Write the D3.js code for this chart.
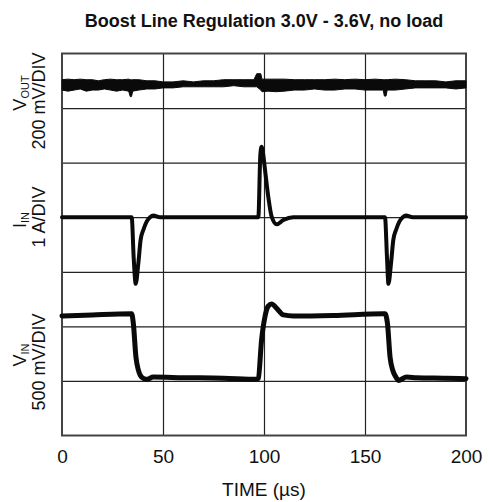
<!DOCTYPE html>
<html>
<head>
<meta charset="utf-8">
<script src="https://cdn.jsdelivr.net/npm/d3@7"></script>
<style>
  html, body { margin: 0; padding: 0; background: #fff; }
  text { font-family: "Liberation Sans", Arial, sans-serif; fill: #111; }
</style>
</head>
<body>
<svg id="chart" width="489" height="502"></svg>
<script>
// ---- data (time in µs, amplitude in scope divisions from the bottom) ----
const title = "Boost Line Regulation 3.0V - 3.6V, no load";
const xTicks = [0, 50, 100, 150, 200];
const yDivisions = [0, 1, 2, 3, 4, 5, 6, 7];
const xLabel = "TIME (µs)";

// V_OUT trace (noisy band: upper / lower envelope)
const voutTime = [0, 3, 6, 9, 12, 15, 18, 21, 24, 27, 30, 33, 33.8, 34.4, 35, 38, 42, 46, 50, 55, 60, 65, 70, 75, 80, 85, 90, 95, 96.4, 98.4, 99, 102, 106, 110, 115, 120, 125, 130, 135, 140, 145, 150, 155, 159, 159.6, 160.4, 161, 165, 170, 175, 180, 185, 190, 195, 200];
const voutHigh = [6.52, 6.53, 6.52, 6.53, 6.52, 6.52, 6.50, 6.52, 6.53, 6.52, 6.52, 6.53, 6.52, 6.52, 6.52, 6.52, 6.50, 6.50, 6.48, 6.48, 6.50, 6.48, 6.50, 6.50, 6.52, 6.52, 6.52, 6.52, 6.63, 6.63, 6.53, 6.53, 6.53, 6.53, 6.52, 6.52, 6.52, 6.52, 6.53, 6.52, 6.53, 6.52, 6.53, 6.52, 6.52, 6.52, 6.52, 6.53, 6.52, 6.50, 6.50, 6.50, 6.48, 6.50, 6.50];
const voutLow  = [6.33, 6.31, 6.33, 6.35, 6.31, 6.33, 6.33, 6.35, 6.33, 6.31, 6.33, 6.31, 6.21, 6.21, 6.31, 6.33, 6.35, 6.35, 6.37, 6.37, 6.39, 6.39, 6.39, 6.39, 6.39, 6.41, 6.39, 6.39, 6.39, 6.33, 6.30, 6.31, 6.30, 6.31, 6.33, 6.33, 6.35, 6.33, 6.33, 6.35, 6.35, 6.33, 6.33, 6.33, 6.22, 6.22, 6.33, 6.33, 6.35, 6.37, 6.37, 6.37, 6.37, 6.35, 6.37];

// I_IN trace
const iinTime = [0, 34.5, 35.5, 36.5, 37.8, 38.9, 40.3, 41.9, 43.6, 45.2, 48.5, 97.2, 98.2, 98.8, 99.6, 100.5, 102.1, 103.8, 106.3, 109.6, 114.5, 159.9, 160.9, 161.6, 162.9, 164.0, 165.4, 167.0, 168.7, 170.3, 173.6, 200];
const iinValue = [4.0, 4.0, 3.25, 2.78, 3.16, 3.58, 3.77, 3.92, 4.0, 4.03, 4.0, 4.0, 5.15, 5.29, 5.15, 4.87, 4.38, 4.01, 3.87, 3.95, 4.0, 4.0, 3.25, 2.78, 3.16, 3.58, 3.77, 3.92, 4.0, 4.03, 4.0, 4.0];

// V_IN trace
const vinTime = [0, 15, 34.5, 35.3, 36.6, 37.8, 39.4, 41.9, 45.2, 60, 80, 96.4, 97.2, 98.8, 100.5, 102.1, 103.8, 106.3, 109.6, 114.5, 134.3, 159.1, 159.9, 161.1, 162.4, 163.7, 165.3, 166.5, 170.6, 175.5, 190, 200];
const vinValue = [2.19, 2.21, 2.23, 2.06, 1.44, 1.20, 1.07, 1.03, 1.07, 1.06, 1.05, 1.03, 1.05, 1.75, 2.18, 2.37, 2.41, 2.33, 2.21, 2.19, 2.20, 2.23, 2.23, 2.06, 1.44, 1.20, 1.07, 1.01, 1.07, 1.06, 1.05, 1.04];

// channel labels
const channelNames = [
  { main: "V", sub: "OUT", scale: "200 mV/DIV", c1: 93, c2: 101 },
  { main: "I", sub: "IN",  scale: "1 A/DIV",    c1: 220, c2: 217 },
  { main: "V", sub: "IN",  scale: "500 mV/DIV", c1: 355, c2: 362 }
];

// ---- layout ----
const svg = d3.select("#chart");
const pLeft = 62, pRight = 466, pTop = 53.5, pBottom = 435.5;
const x = d3.scaleLinear().domain([0, 200]).range([pLeft, pRight]);
const y = d3.scaleLinear().domain([0, 7]).range([pBottom, pTop]);

// title
svg.append("text")
  .attr("x", (pLeft + pRight) / 2).attr("y", 27)
  .attr("text-anchor", "middle")
  .style("font-size", "18px").style("font-weight", "bold")
  .text(title);

// grid (vertical)
svg.append("g")
  .attr("transform", `translate(0,${pBottom})`)
  .call(d3.axisBottom(x).tickValues(xTicks.slice(1, -1)).tickSize(-(pBottom - pTop)).tickFormat(""))
  .call(g => g.select(".domain").remove())
  .call(g => g.selectAll("line").attr("stroke", "#222").attr("stroke-width", 1.2));

// grid (horizontal)
svg.append("g")
  .attr("transform", `translate(${pLeft},0)`)
  .call(d3.axisLeft(y).tickValues(yDivisions.slice(1, -1)).tickSize(-(pRight - pLeft)).tickFormat(""))
  .call(g => g.select(".domain").remove())
  .call(g => g.selectAll("line").attr("stroke", "#222").attr("stroke-width", 1.2));

// frame
svg.append("rect")
  .attr("x", pLeft).attr("y", pTop)
  .attr("width", pRight - pLeft).attr("height", pBottom - pTop)
  .attr("fill", "none").attr("stroke", "#444").attr("stroke-width", 2);

// x tick labels
svg.append("g")
  .attr("transform", `translate(0,${pBottom})`)
  .call(d3.axisBottom(x).tickValues(xTicks).tickSize(0).tickPadding(14))
  .call(g => g.select(".domain").remove())
  .call(g => g.selectAll("text")
      .style("font-size", "19px")
      .style("font-family", '"Liberation Sans", Arial, sans-serif')
      .attr("fill", "#111"));

// x label
svg.append("text")
  .attr("x", (pLeft + pRight) / 2).attr("y", 496)
  .attr("text-anchor", "middle")
  .style("font-size", "19px")
  .text(xLabel);

// V_OUT band
const voutData = voutTime.map((t, i) => ({ t, hi: voutHigh[i], lo: voutLow[i] }));
svg.append("path")
  .datum(voutData)
  .attr("d", d3.area().x(d => x(d.t)).y0(d => y(d.lo)).y1(d => y(d.hi)))
  .attr("fill", "#0a0a0a").attr("stroke", "#0a0a0a").attr("stroke-width", 1);

// I_IN trace
const iinData = iinTime.map((t, i) => ({ t, v: iinValue[i] }));
svg.append("path")
  .datum(iinData)
  .attr("d", d3.line().x(d => x(d.t)).y(d => y(d.v)).curve(d3.curveMonotoneX))
  .attr("fill", "none").attr("stroke", "#0a0a0a").attr("stroke-width", 4)
  .attr("stroke-linejoin", "round").attr("stroke-linecap", "round");

// V_IN trace
const vinData = vinTime.map((t, i) => ({ t, v: vinValue[i] }));
svg.append("path")
  .datum(vinData)
  .attr("d", d3.line().x(d => x(d.t)).y(d => y(d.v)).curve(d3.curveMonotoneX))
  .attr("fill", "none").attr("stroke", "#0a0a0a").attr("stroke-width", 5)
  .attr("stroke-linejoin", "round").attr("stroke-linecap", "round");

// channel labels (rotated)
channelNames.forEach(ch => {
  const t1 = svg.append("text")
    .attr("transform", `translate(26,${ch.c1}) rotate(-90)`)
    .attr("text-anchor", "middle")
    .style("font-size", "18px");
  t1.append("tspan").text(ch.main);
  t1.append("tspan").attr("dy", 3).style("font-size", "11px").text(ch.sub);
  svg.append("text")
    .attr("transform", `translate(45,${ch.c2}) rotate(-90)`)
    .attr("text-anchor", "middle")
    .style("font-size", "18px")
    .text(ch.scale);
});
</script>
</body>
</html>
